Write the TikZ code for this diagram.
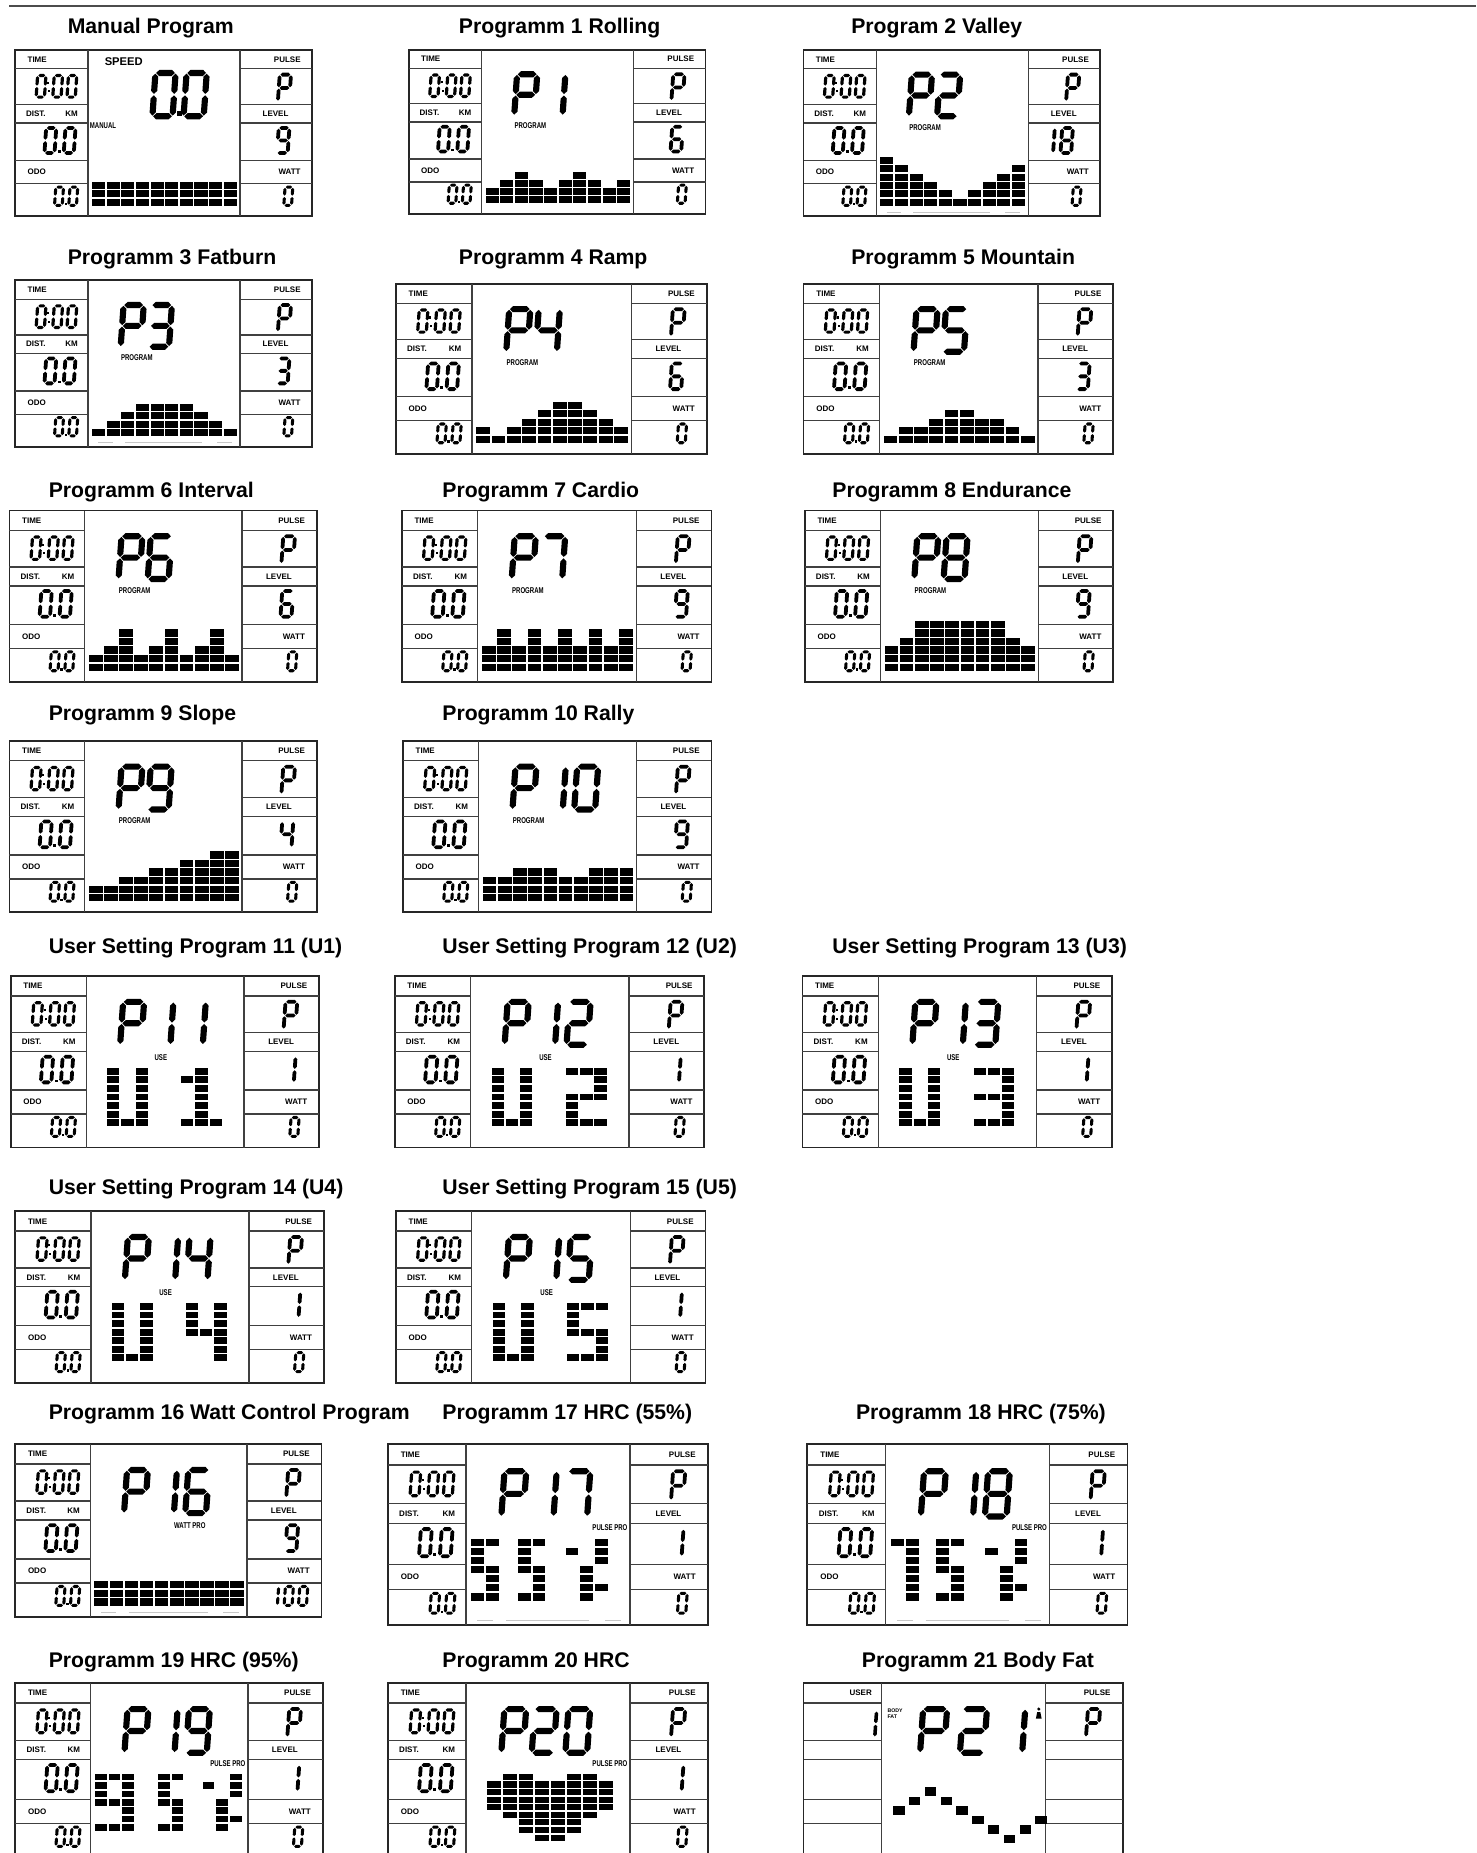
\documentclass[tikz,border=0pt]{standalone}
\usepackage{fontspec}
\setmainfont{Liberation Sans}
\newfontfamily\condf[FakeStretch=0.72]{Liberation Sans}
\def\uu{0.5909pt}
% seven segment codes abcdefg
\expandafter\def\csname dg0\endcsname{1111110}
\expandafter\def\csname dg1\endcsname{0110000}
\expandafter\def\csname dg2\endcsname{1101101}
\expandafter\def\csname dg3\endcsname{1111001}
\expandafter\def\csname dg4\endcsname{0110011}
\expandafter\def\csname dg5\endcsname{1011011}
\expandafter\def\csname dg6\endcsname{1011111}
\expandafter\def\csname dg7\endcsname{1110000}
\expandafter\def\csname dg8\endcsname{1111111}
\expandafter\def\csname dg9\endcsname{1111011}
\expandafter\def\csname dgP\endcsname{1100111}
\def\hseg#1{\fill (\gx,#1) -- (\gx+\hx,#1+\hy) -- (1-\gx-\hx,#1+\hy) -- (1-\gx,#1) -- (1-\gx-\hx,#1-\hy) -- (\gx+\hx,#1-\hy) -- cycle;}
\def\vseg#1#2#3{\fill (#1,#2) -- (#1+\hx,#2+\hy) -- (#1+\hx,#3-\hy) -- (#1,#3) -- (#1-\hx,#3-\hy) -- (#1-\hx,#2+\hy) -- cycle;}
\def\ssdseg#1#2#3#4#5#6#7{%
 \ifnum#1=1 \hseg{1}\fi
 \ifnum#2=1 \vseg{1}{0.5+\gy}{1-\gy}\fi
 \ifnum#3=1 \vseg{1}{\gy}{0.5-\gy}\fi
 \ifnum#4=1 \hseg{0}\fi
 \ifnum#5=1 \vseg{0}{\gy}{0.5-\gy}\fi
 \ifnum#6=1 \vseg{0}{0.5+\gy}{1-\gy}\fi
 \ifnum#7=1 \hseg{0.5}\fi}
% \ssd{fx}{fy bottom}{fw}{fh}{stroke}{char}
\newcommand\ssd[6]{%
 \pgfmathsetmacro\sdw{#3*\W}%
 \pgfmathsetmacro\sdh{#4*\H}%
 \pgfmathsetmacro\gx{0.6/\sdw}%
 \pgfmathsetmacro\gy{0.6/\sdh}%
 \pgfmathsetmacro\hx{0.5*#5/\sdw}%
 \pgfmathsetmacro\hy{0.5*#5/\sdh}%
 \begin{scope}[shift={(#1,#2)}, x={(\sdw*\uu,0pt)}, y={(0.07*\sdh*\uu,\sdh*\uu)}]
 \edef\sdcode{\csname dg#6\endcsname}%
 \expandafter\ssdseg\sdcode
 \end{scope}}
\newcommand\sdot[3]{\fill (#1,#2) rectangle ({#1+#3/\W},{#2-#3/\H});}
\tikzset{
 ttl/.style={font=\fontsize{10.6}{12}\selectfont\bfseries, anchor=base west, inner sep=0pt},
 lab/.style={font=\fontsize{4}{4.5}\selectfont\bfseries, inner sep=0pt},
 clab/.style={font=\condf\fontsize{4.2}{5}\selectfont\bfseries, inner sep=0pt},
 fr/.style={draw=black!85, line width=1.5*\uu},
 dv/.style={draw=black!75, line width=1.1*\uu},
 faint/.style={draw=black!22, line width=1*\uu},
}
\newcommand\pbeg[5]{\def\pid{#1}\def\W{#4}\def\H{#5}%
 \begin{scope}[shift={(#2,#3)}, x={(#4*\uu,0pt)}, y={(0pt,-#5*\uu)}]}
\newcommand\pfin{\end{scope}}
\newcommand\pframe{%
 \draw[fr] (0,0) rectangle (1,1);
 \draw[dv] (0.245,0)--(0.245,1) (0.757,0)--(0.757,1);
 \foreach \yy in {0.115,0.33,0.44,0.665,0.805}{\draw[dv] (0,\yy)--(0.245,\yy) (0.757,\yy)--(1,\yy);}}
\newcommand\pdash{\draw[faint] (0.28,0.975)--(0.33,0.975) (0.37,0.975)--(0.63,0.975) (0.68,0.975)--(0.73,0.975);}
\newcommand\pstd{%
 \node[lab,anchor=west] (\pid-time) at (0.04,0.058) {TIME};
 \node[lab,anchor=west] (\pid-dist) at (0.035,0.385) {DIST.};
 \node[lab,anchor=east] (\pid-km) at (0.212,0.385) {KM};
 \node[lab,anchor=west] (\pid-odo) at (0.04,0.735) {ODO};
 \node[lab,anchor=east] (\pid-pulse) at (0.963,0.058) {PULSE};
 \node[lab] (\pid-level) at (0.877,0.385) {LEVEL};
 \node[lab,anchor=east] (\pid-watt) at (0.963,0.735) {WATT};
 \ssd{0.07}{0.285}{0.028}{0.13}{2.7}{0}
 \sdot{0.107}{0.205}{1.7}\sdot{0.110}{0.255}{1.7}
 \ssd{0.126}{0.285}{0.028}{0.13}{2.7}{0}
 \ssd{0.174}{0.285}{0.028}{0.13}{2.7}{0}
 \ssd{0.098}{0.62}{0.034}{0.15}{3.2}{0}
 \sdot{0.143}{0.62}{2.4}
 \ssd{0.163}{0.62}{0.034}{0.15}{3.2}{0}
 \ssd{0.132}{0.935}{0.026}{0.11}{2.6}{0}
 \sdot{0.166}{0.935}{2}
 \ssd{0.18}{0.935}{0.026}{0.11}{2.6}{0}
 \ssd{0.885}{0.31}{0.038}{0.16}{3.2}{P}}
\newcommand\plevel[1]{\ssd{0.882}{0.62}{0.036}{0.15}{3.2}{#1}}
\newcommand\pwatt{\ssd{0.905}{0.935}{0.026}{0.11}{2.6}{0}}
\newcommand\bigP{\ssd{0.355}{0.40}{0.068}{0.25}{5.2}{P}}
\newcommand\bigA[1]{\ssd{0.45}{0.40}{0.068}{0.25}{5.2}{#1}}
\newcommand\bigB[1]{\ssd{0.555}{0.40}{0.068}{0.25}{5.2}{#1}}
\newcommand\pprog{\node[clab,anchor=west] (\pid-prog) at (0.355,0.465) {PROGRAM};}
\newcommand\pbars[1]{%
 \begin{scope}[shift={(0.256,0.94)}, x={(0.0493*\W*\uu,0pt)}, y={(0pt,0.05*\H*\uu)}]
 \foreach \hh [count=\ii from 0] in {#1}{\foreach \kk in {1,...,\hh}{\fill (\ii+0.05,\kk-0.93) rectangle (\ii+0.95,\kk-0.07);}}
 \end{scope}}
\def\mgx{0.07}\def\mgy{0.1}
\newcommand\pmat[5]{%
 \begin{scope}[shift={(#1,#2)}, x={(#3*\W*\uu,0pt)}, y={(0pt,-#4*\H*\uu)}]
 \foreach \cc/\rr in #5 {\fill (\cc+\mgx,\rr+\mgy) rectangle (\cc+1-\mgx,\rr+1-\mgy);}
 \end{scope}}
\def\gU{0/0,0/1,0/2,0/3,0/4,0/5,0/6,2/0,2/1,2/2,2/3,2/4,2/5,2/6,1/6}
\def\gI{1/0,1/1,1/2,1/3,1/4,1/5,1/6,0/1,0/6,2/6}
\def\gII{0/0,1/0,2/0,2/1,2/2,0/3,1/3,2/3,0/4,0/5,0/6,1/6,2/6}
\def\gIII{0/0,1/0,2/0,2/1,2/2,0/3,1/3,2/3,2/4,2/5,0/6,1/6,2/6}
\def\gIV{0/0,0/1,0/2,0/3,1/3,2/0,2/1,2/2,2/3,2/4,2/5,2/6}
\def\gV{0/0,1/0,2/0,0/1,0/2,0/3,1/3,2/3,2/4,2/5,0/6,1/6,2/6}
\def\hV{0/0,1/0,0/1,0/2,0/3,1/3,1/4,1/5,0/6,1/6}
\def\hVII{0/0,1/0,1/1,1/2,1/3,1/4,1/5,1/6}
\def\hIX{0/0,1/0,2/0,0/1,2/1,0/2,2/2,0/3,1/3,2/3,2/4,2/5,0/6,1/6,2/6}
\def\hPct{0/1,2/0,2/1,2/2,1/3,1/4,1/5,1/6,2/5}
\def\gHeart{1/0,2/0,5/0,6/0,0/1,1/1,2/1,3/1,4/1,5/1,6/1,7/1,0/2,1/2,2/2,3/2,4/2,5/2,6/2,7/2,0/3,1/3,2/3,3/3,4/3,5/3,6/3,7/3,0/4,1/4,2/4,3/4,4/4,5/4,6/4,7/4,1/5,2/5,3/5,4/5,5/5,6/5,2/6,3/6,4/6,5/6,2/7,3/7,4/7,5/7,3/8,4/8}
\def\gCurve{0/2,1/1,2/0,3/1,4/2,5/3,6/4,7/5,8/4,9/3}
\begin{document}
\begin{tikzpicture}[x=0.5909pt,y=-0.5909pt]
\useasboundingbox (0,0) rectangle (1249,1568);
\fill[white] (0,0) rectangle (1249,1568);
\clip (0,0) rectangle (1249,1568);
\draw[black!70, line width=1.3*\uu] (8,5) -- (1249,5);
% titles
\node[ttl] (t-man) at (57,28) {Manual Program};
\node[ttl] (t-p1) at (388,28) {Programm 1 Rolling};
\node[ttl] (t-p2) at (720,28) {Program 2 Valley};
\node[ttl] (t-p3) at (57,224) {Programm 3 Fatburn};
\node[ttl] (t-p4) at (388,224) {Programm 4 Ramp};
\node[ttl] (t-p5) at (720,224) {Programm 5 Mountain};
\node[ttl] (t-p6) at (41,421) {Programm 6 Interval};
\node[ttl] (t-p7) at (374,421) {Programm 7 Cardio};
\node[ttl] (t-p8) at (704,421) {Programm 8 Endurance};
\node[ttl] (t-p9) at (41,610) {Programm 9 Slope};
\node[ttl] (t-p10) at (374,610) {Programm 10 Rally};
\node[ttl] (t-u1) at (41,807) {User Setting Program 11 (U1)};
\node[ttl] (t-u2) at (374,807) {User Setting Program 12 (U2)};
\node[ttl] (t-u3) at (704,807) {User Setting Program 13 (U3)};
\node[ttl] (t-u4) at (41,1011) {User Setting Program 14 (U4)};
\node[ttl] (t-u5) at (374,1011) {User Setting Program 15 (U5)};
\node[ttl] (t-p16) at (41,1201) {Programm 16 Watt Control Program};
\node[ttl] (t-p17) at (374,1201) {Programm 17 HRC (55\%)};
\node[ttl] (t-p18) at (724,1201) {Programm 18 HRC (75\%)};
\node[ttl] (t-p19) at (41,1411) {Programm 19 HRC (95\%)};
\node[ttl] (t-p20) at (374,1411) {Programm 20 HRC};
\node[ttl] (t-p21) at (729,1411) {Programm 21 Body Fat};
% Manual
\pbeg{man}{13}{42}{251}{141}
\pframe\pstd\plevel{9}\pwatt
\node[font=\fontsize{5.6}{6}\selectfont\bfseries, inner sep=0pt, anchor=west] (man-speed) at (0.3,0.07) {SPEED};
\ssd{0.462}{0.40}{0.068}{0.26}{5.2}{0}\sdot{0.544}{0.40}{4.5}\ssd{0.567}{0.40}{0.068}{0.26}{5.2}{0}
\node[clab,anchor=west] (man-manual) at (0.25,0.455) {MANUAL};
\pbars{3,3,3,3,3,3,3,3,3,3}
\pfin
% P1
\pbeg{p1}{346}{42}{251}{139}
\pframe\pstd\plevel{6}\pwatt\bigP\bigA{1}\pprog
\pbars{2,3,4,3,2,3,4,3,2,3}
\pfin
% P2
\pbeg{p2}{680}{42}{251}{141}
\pframe\pstd\pwatt\bigP\bigA{2}\pprog\pdash
\ssd{0.805}{0.62}{0.036}{0.15}{3.2}{1}\ssd{0.866}{0.62}{0.036}{0.15}{3.2}{8}
\pbars{6,5,4,3,2,1,2,3,4,5}
\pfin
% P3
\pbeg{p3}{13}{237}{251}{141}
\pframe\pstd\plevel{3}\pwatt\bigP\bigA{3}\pprog\pdash
\pbars{1,2,3,4,4,4,4,3,2,1}
\pfin
% P4
\pbeg{p4}{335}{240}{263}{144}
\pframe\pstd\plevel{6}\pwatt\bigP\bigA{4}\pprog
\pbars{2,1,2,3,4,5,5,4,3,2}
\pfin
% P5
\pbeg{p5}{680}{240}{262}{144}
\pframe\pstd\plevel{3}\pwatt\bigP\bigA{5}\pprog
\pbars{1,2,2,3,4,4,3,3,2,1}
\pfin
% P6
\pbeg{p6}{8}{432}{260}{145}
\pframe\pstd\plevel{6}\pwatt\bigP\bigA{6}\pprog
\pbars{2,3,5,2,3,5,2,3,5,2}
\pfin
% P7
\pbeg{p7}{340}{432}{262}{145}
\pframe\pstd\plevel{9}\pwatt\bigP\bigA{7}\pprog
\pbars{3,5,3,5,3,5,3,5,3,5}
\pfin
% P8
\pbeg{p8}{681}{432}{261}{145}
\pframe\pstd\plevel{9}\pwatt\bigP\bigA{8}\pprog
\pbars{3,4,6,6,6,6,6,6,4,3}
\pfin
% P9
\pbeg{p9}{8}{627}{260}{145}
\pframe\pstd\plevel{4}\pwatt\bigP\bigA{9}\pprog
\pbars{2,2,3,3,4,4,5,5,6,6}
\pfin
% P10
\pbeg{p10}{341}{627}{261}{145}
\pframe\pstd\plevel{9}\pwatt\bigP\bigA{1}\bigB{0}\pprog
\pbars{3,3,4,4,4,3,3,4,4,4}
\pfin
% U1
\pbeg{u1}{9}{826}{261}{145}
\pframe\pstd\plevel{1}\pwatt\bigP\bigA{1}\bigB{1}
\node[clab] (u1-use) at (0.487,0.475) {USE};
\pmat{0.31}{0.53}{0.046}{0.05}{\gU}\pmat{0.55}{0.53}{0.046}{0.05}{\gI}
\pfin
% U2
\pbeg{u2}{334}{826}{262}{145}
\pframe\pstd\plevel{1}\pwatt\bigP\bigA{1}\bigB{2}
\node[clab] (u2-use) at (0.487,0.475) {USE};
\pmat{0.31}{0.53}{0.046}{0.05}{\gU}\pmat{0.55}{0.53}{0.046}{0.05}{\gII}
\pfin
% U3
\pbeg{u3}{679}{826}{262}{145}
\pframe\pstd\plevel{1}\pwatt\bigP\bigA{1}\bigB{3}
\node[clab] (u3-use) at (0.487,0.475) {USE};
\pmat{0.31}{0.53}{0.046}{0.05}{\gU}\pmat{0.55}{0.53}{0.046}{0.05}{\gIII}
\pfin
% U4
\pbeg{u4}{13}{1025}{261}{145}
\pframe\pstd\plevel{1}\pwatt\bigP\bigA{1}\bigB{4}
\node[clab] (u4-use) at (0.487,0.475) {USE};
\pmat{0.31}{0.53}{0.046}{0.05}{\gU}\pmat{0.55}{0.53}{0.046}{0.05}{\gIV}
\pfin
% U5
\pbeg{u5}{335}{1025}{262}{145}
\pframe\pstd\plevel{1}\pwatt\bigP\bigA{1}\bigB{5}
\node[clab] (u5-use) at (0.487,0.475) {USE};
\pmat{0.31}{0.53}{0.046}{0.05}{\gU}\pmat{0.55}{0.53}{0.046}{0.05}{\gV}
\pfin
% P16
\pbeg{p16}{13}{1222}{259}{146}
\pframe\pstd\plevel{9}\bigP\bigA{1}\bigB{6}\pdash
\node[clab] (p16-wp) at (0.57,0.475) {WATT PRO};
\ssd{0.83}{0.935}{0.026}{0.11}{2.6}{1}\ssd{0.878}{0.935}{0.026}{0.11}{2.6}{0}\ssd{0.925}{0.935}{0.026}{0.11}{2.6}{0}
\pbars{3,3,3,3,3,3,3,3,3,3}
\pfin
% P17
\pbeg{p17}{328}{1222}{271}{153}
\pframe\pstd\plevel{1}\pwatt\bigP\bigA{1}\bigB{7}\pdash
\node[clab,anchor=east] (p17-pp) at (0.75,0.46) {PULSE PRO};
\pmat{0.258}{0.52}{0.046}{0.05}{\hV}\pmat{0.404}{0.52}{0.046}{0.05}{\hV}\pmat{0.553}{0.52}{0.046}{0.05}{\hPct}
\pfin
% P18
\pbeg{p18}{683}{1222}{271}{153}
\pframe\pstd\plevel{1}\pwatt\bigP\bigA{1}\bigB{8}\pdash
\node[clab,anchor=east] (p18-pp) at (0.75,0.46) {PULSE PRO};
\pmat{0.26}{0.52}{0.046}{0.05}{\hVII}\pmat{0.40}{0.52}{0.046}{0.05}{\hV}\pmat{0.553}{0.52}{0.046}{0.05}{\hPct}
\pfin
% P19
\pbeg{p19}{13}{1424}{260}{148}
\pframe\pstd\plevel{1}\pwatt\bigP\bigA{1}\bigB{9}
\node[clab,anchor=east] (p19-pp) at (0.75,0.46) {PULSE PRO};
\pmat{0.255}{0.515}{0.045}{0.048}{\hIX}\pmat{0.46}{0.515}{0.045}{0.048}{\hV}\pmat{0.606}{0.515}{0.045}{0.048}{\hPct}
\pfin
% P20
\pbeg{p20}{328}{1424}{271}{148}
\pframe\pstd\plevel{1}\pwatt\bigP\bigA{2}\bigB{0}
\node[clab,anchor=east] (p20-pp) at (0.75,0.46) {PULSE PRO};
\pmat{0.308}{0.516}{0.05}{0.0434}{\gHeart}
\pfin
% P21
\pbeg{p21}{680}{1424}{270}{148}
\pframe
\node[lab,anchor=east] (p21-user) at (0.215,0.058) {USER};
\node[lab,anchor=east] (p21-pulse) at (0.963,0.058) {PULSE};
\ssd{0.19}{0.31}{0.033}{0.15}{3}{1}
\ssd{0.885}{0.31}{0.038}{0.16}{3.2}{P}
\node[font=\fontsize{2.6}{2.9}\selectfont\bfseries, inner sep=0pt, anchor=north west, align=left] (p21-bf) at (0.262,0.145) {BODY\\FAT};
\ssd{0.365}{0.40}{0.075}{0.25}{5.2}{P}\ssd{0.49}{0.40}{0.075}{0.25}{5.2}{2}\ssd{0.61}{0.40}{0.075}{0.25}{5.2}{1}
\fill (0.737,0.15) circle[radius=1.4*\uu];
\fill (0.728,0.205) -- (0.746,0.205) -- (0.742,0.168) -- (0.732,0.168) -- cycle;
\def\mgx{0.14}\def\mgy{0.06}
\pmat{0.274}{0.595}{0.0495}{0.054}{\gCurve}
\pfin
\end{tikzpicture}
\end{document}
